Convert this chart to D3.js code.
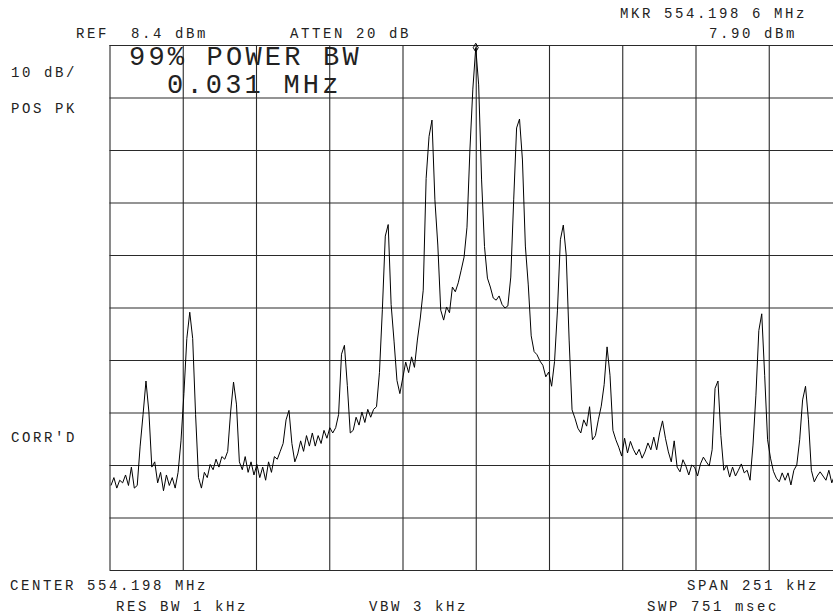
<!DOCTYPE html>
<html>
<head>
<meta charset="utf-8">
<script src="https://cdn.jsdelivr.net/npm/d3@7/dist/d3.min.js"></script>
<style>
  html, body { margin: 0; padding: 0; background: #fff; }
  svg { display: block; }
  text { font-family: "Liberation Mono", "DejaVu Sans Mono", monospace; fill: #222; white-space: pre; }
</style>
</head>
<body>
<svg id="chart" width="833" height="615"></svg>
<script>
// ---- Instrument settings ----
const refLevelDbm = 8.4;
const dbPerDiv = 10;
const numDivs = 10;
const spanKHz = 251;
const markerOffsetKHz = 0;
const markerLevelDbm = 7.90;

// ---- Trace: one reading per kHz offset from center, -125 .. +125 kHz ----
const traceStartKHz = -125;
const traceStepKHz = 1;
const traceDbm = [
  -75.5, -74, -76, -74.5, -75, -73.5, -75.5, -72, -76, -75.5,      // -125..-116
  -68, -62, -55.6, -61.5, -72,                                     // -115..-111
  -71, -75, -73, -76.5, -73.5, -75.5, -74, -76, -73,               // -110..-102
  -67, -58, -47.5, -42.5, -47.5, -62, -74,                         // -101..-95
  -76, -73, -74, -71.5, -72.5, -70.5, -72, -70, -70.5,             // -94..-86
  -69, -61.5, -55.8, -60, -71,                                     // -85..-81
  -72.5, -70, -73, -71, -73.5, -71.5, -74, -72, -74.5, -71, -73, -70, -70.5, -69, // -80..-67
  -67.5, -63, -61.2, -67.5, -71,                                   // -66..-62
  -69.5, -67, -69, -66, -68, -65.5, -68, -66, -67.5, -65, -66.5, -64.5, -65.5, // -61..-49
  -64.5, -62, -50.5, -48.8, -56.5, -65.5,                          // -48..-43
  -65, -62.5, -64, -61.5, -63.5, -61, -62.5, -61, -60.5,           // -42..-34
  -54, -42, -28, -25.8, -41, -48, -55.5, -58,                      // -33..-26
  -55, -52, -54, -51, -53, -47.8, -43.6, -38.3,                    // -25..-18
  -17, -9, -5.9, -21.1, -29.7, -42.1, -44,                         // -17..-11
  -41.5, -42.6, -37.7, -38.6, -36.9, -34.5, -32, -26.3,            // -10..-3
  -11.6, 0, 7.9, 0.8, -17.3,                                       // -2..2
  -30, -36, -37.7, -39.8, -40.2, -39.4, -41, -41.7, -41.3,         // 3..11
  -35.8, -21.1, -7.4, -5.7, -13.5, -29.9, -37.3,                   // 12..18
  -47, -50, -50.6, -51.8, -52.6, -54.8, -53.9, -56.6, -51.9,       // 19..27
  -42.1, -28.7, -25.9, -31.6, -47.8,                               // 28..32
  -61.1, -62.7, -64.6, -65.5, -63, -64.2, -60.5, -66.8, -66, -63, -60.4, // 33..43
  -56.3, -49.1, -54.5, -65,                                        // 44..47
  -66.8, -68.2, -69.9, -66.5, -69.3, -67.1, -68.6, -69.7, -68.6, -70.3, -69.1, -67.4, -68.7, -66.3, -68.7, // 48..62
  -65.5, -63.2, -66.5,                                             // 63..65
  -69.1, -71, -67, -72, -72.9, -70.6, -71.8, -73.5, -71.6, -72, -73.7, -71.4, -70.1, -71, -71.8, // 66..80
  -68.7, -57, -55.6, -66,                                          // 81..84
  -72.6, -71.6, -73.9, -72, -73.7, -72.6, -71.4, -73.1, -72.6, -74.5, // 85..94
  -67.8, -58.3, -46, -42.8, -54.5, -66.8,                          // 95..100
  -70.3, -72.8, -74.1, -74.8, -73.1, -74.5, -73.1, -75.4, -72.6, -71.6, // 101..110
  -66.8, -59.2, -56.6, -63, -72.6,                                 // 111..115
  -74.8, -73.7, -72.9, -73.7, -74.5, -72.6, -75, -73.5, -75, -74   // 116..125
];

// ---- Annotation text ----
const headerLabels = [
  { text: "REF  8.4 dBm", x: 76, y: 38 },
  { text: "ATTEN 20 dB", x: 290, y: 38 },
  { text: "MKR 554.198 6 MHz", x: 620, y: 18 },
  { text: "7.90 dBm", x: 709, y: 38 }
];
const sideLabels = [
  { text: "10 dB/", x: 11, y: 77 },
  { text: "POS PK", x: 11, y: 113 },
  { text: "CORR'D", x: 11, y: 442 }
];
const footerLabels = [
  { text: "CENTER 554.198 MHz", x: 10, y: 590 },
  { text: "SPAN 251 kHz", x: 687, y: 590 },
  { text: "RES BW 1 kHz", x: 116, y: 611 },
  { text: "VBW 3 kHz", x: 369, y: 611 },
  { text: "SWP 751 msec", x: 647, y: 611 }
];
const bigLabels = [
  { text: "99% POWER BW", x: 129, y: 65 },
  { text: "0.031 MHz", x: 167, y: 93 }
];

// ---- Layout ----
const plot = { left: 109.5, right: 842, top: 45, bottom: 570 };
const svg = d3.select("#chart");

const x = d3.scaleLinear()
  .domain([-spanKHz / 2, spanKHz / 2])
  .range([plot.left, plot.right]);
const y = d3.scaleLinear()
  .domain([refLevelDbm - dbPerDiv * numDivs, refLevelDbm])
  .range([plot.bottom, plot.top]);

const xGrid = d3.range(numDivs + 1).map(i => -spanKHz / 2 + i * spanKHz / numDivs);
const yGrid = d3.range(numDivs + 1).map(i => refLevelDbm - i * dbPerDiv);

// graticule via axes
const gx = svg.append("g")
  .attr("transform", `translate(0,${plot.bottom})`)
  .call(d3.axisBottom(x).tickValues(xGrid).tickSize(-(plot.bottom - plot.top)).tickFormat(""));
const gy = svg.append("g")
  .attr("transform", `translate(${plot.left},0)`)
  .call(d3.axisLeft(y).tickValues(yGrid).tickSize(-(plot.right - plot.left)).tickFormat(""));
[gx, gy].forEach(g => {
  g.select(".domain").remove();
  g.selectAll(".tick line").attr("stroke", "#2a2a2a").attr("stroke-width", 1.1);
});

// trace
const tracePts = traceDbm.map((v, i) => [traceStartKHz + i * traceStepKHz, v]);
svg.append("path")
  .datum(tracePts)
  .attr("fill", "none")
  .attr("stroke", "#000")
  .attr("stroke-width", 1)
  .attr("stroke-linejoin", "miter")
  .attr("d", d3.line().x(d => x(d[0])).y(d => y(d[1])));

// marker
svg.append("path")
  .attr("d", d3.symbol().type(d3.symbolDiamond).size(22)())
  .attr("transform", `translate(${x(markerOffsetKHz)},${y(markerLevelDbm)})`)
  .attr("fill", "none")
  .attr("stroke", "#000")
  .attr("stroke-width", 1);

// small labels
svg.selectAll("text.small")
  .data(headerLabels.concat(sideLabels, footerLabels))
  .join("text")
  .attr("class", "small")
  .attr("x", d => d.x)
  .attr("y", d => d.y)
  .attr("font-size", 14)
  .attr("letter-spacing", 2.6)
  .text(d => d.text);

// big labels
svg.selectAll("text.big")
  .data(bigLabels)
  .join("text")
  .attr("class", "big")
  .attr("x", d => d.x)
  .attr("y", d => d.y)
  .attr("font-size", 27)
  .attr("letter-spacing", 3.2)
  .text(d => d.text);
</script>
</body>
</html>
